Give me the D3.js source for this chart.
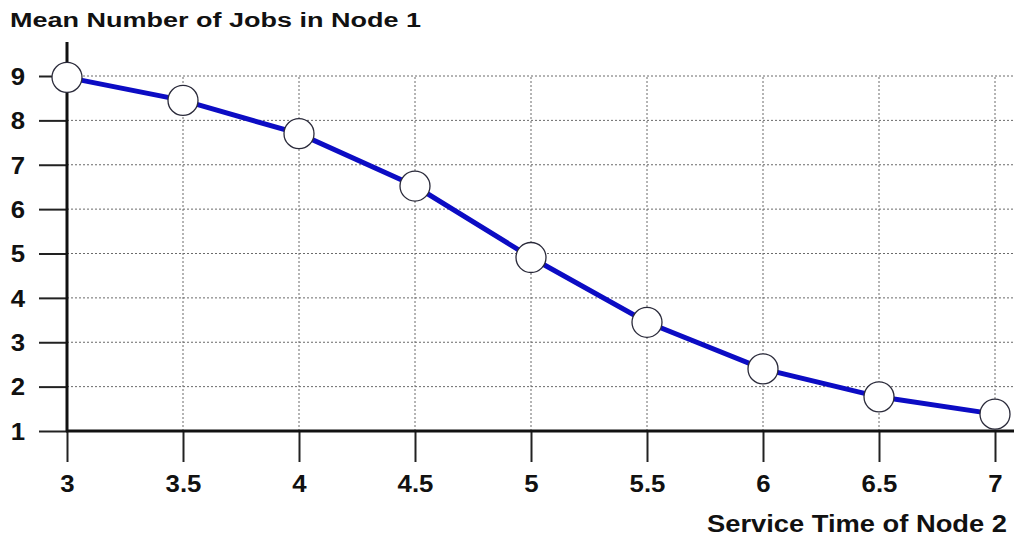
<!DOCTYPE html>
<html>
<head>
<meta charset="utf-8">
<script src="https://cdn.jsdelivr.net/npm/d3@7"></script>
<style>
  body { margin: 0; background: #fff; }
  svg { display: block; }
  .grid line { stroke: #6a6a6a; stroke-width: 1; stroke-dasharray: 2,2; }
  .axis text { font-family: "Liberation Sans", Arial, sans-serif; font-size: 23px; font-weight: bold; fill: #111; }
  .axis line { stroke: #222; stroke-width: 2; }
  .axis .spine { stroke: #111; stroke-width: 3; }
  .title { font-family: "Liberation Sans", Arial, sans-serif; font-weight: bold; fill: #111; }
</style>
</head>
<body>
<div id="chart"></div>
<script>
  'use strict';

  var serviceTimes = [ 3, 3.5, 4, 4.5, 5, 5.5, 6, 6.5, 7 ],
      meanJobs = [ 8.97, 8.45, 7.7, 6.52, 4.91, 3.45, 2.4, 1.77, 1.38 ],
      yTicks = [ 1, 2, 3, 4, 5, 6, 7, 8, 9 ],
      xTicks = [ 3, 3.5, 4, 4.5, 5, 5.5, 6, 6.5, 7 ];

  var width = 1014,
      height = 537;

  var svg = d3.select( '#chart' )
    .append( 'svg' )
    .attr( 'width', width )
    .attr( 'height', height );

  var x = d3.scaleLinear().domain( [ 3, 7 ] ).range( [ 67, 995 ] ),
      y = d3.scaleLinear().domain( [ 1, 9 ] ).range( [ 431, 76 ] );

  // widen the glyphs a bit, the original font is broader than Liberation
  function widen( sel, k ) {
    sel.each( function() {
      var w = this.getComputedTextLength();
      d3.select( this )
        .attr( 'textLength', w * k )
        .attr( 'lengthAdjust', 'spacingAndGlyphs' );
    });
  }

  // dotted grid
  var grid = svg.append( 'g' ).attr( 'class', 'grid' );
  grid.selectAll( '.h' )
    .data( yTicks.slice( 1 ) )
    .enter().append( 'line' )
    .attr( 'x1', x( 3 ) )
    .attr( 'x2', width )
    .attr( 'y1', function( d ) { return y( d ); } )
    .attr( 'y2', function( d ) { return y( d ); } );
  grid.selectAll( '.v' )
    .data( xTicks.slice( 1 ) )
    .enter().append( 'line' )
    .attr( 'x1', function( d ) { return x( d ); } )
    .attr( 'x2', function( d ) { return x( d ); } )
    .attr( 'y1', y( 1 ) )
    .attr( 'y2', y( 9 ) );

  // axes
  var yAxis = svg.append( 'g' )
    .attr( 'class', 'axis' )
    .attr( 'transform', 'translate(' + x( 3 ) + ',0)' )
    .call( d3.axisLeft( y ).tickValues( yTicks ).tickSize( 28 ).tickPadding( 14 ).tickFormat( d3.format( 'd' ) ) );
  yAxis.select( '.domain' ).remove();
  yAxis.selectAll( 'text' ).attr( 'dy', '0.36em' ).call( widen, 1.12 );
  yAxis.append( 'line' )
    .attr( 'class', 'spine' )
    .attr( 'x1', 0 ).attr( 'x2', 0 )
    .attr( 'y1', 42 ).attr( 'y2', y( 1 ) + 1 );

  var xAxis = svg.append( 'g' )
    .attr( 'class', 'axis' )
    .attr( 'transform', 'translate(0,' + y( 1 ) + ')' )
    .call( d3.axisBottom( x ).tickValues( xTicks ).tickSize( 31 ).tickPadding( 14 ).tickFormat( d3.format( '' ) ) );
  xAxis.select( '.domain' ).remove();
  xAxis.selectAll( 'text' ).call( widen, 1.12 );
  xAxis.append( 'line' )
    .attr( 'class', 'spine' )
    .attr( 'x1', x( 3 ) - 1 ).attr( 'x2', width )
    .attr( 'y1', 0 ).attr( 'y2', 0 );

  // series
  var line = d3.line()
    .x( function( d, i ) { return x( serviceTimes[i] ); } )
    .y( function( d ) { return y( d ); } );

  svg.append( 'path' )
    .datum( meanJobs )
    .attr( 'd', line )
    .attr( 'fill', 'none' )
    .attr( 'stroke', '#0c0cc4' )
    .attr( 'stroke-width', 5 );

  svg.selectAll( '.pt' )
    .data( meanJobs )
    .enter().append( 'circle' )
    .attr( 'class', 'pt' )
    .attr( 'cx', function( d, i ) { return x( serviceTimes[i] ); } )
    .attr( 'cy', function( d ) { return y( d ); } )
    .attr( 'r', 15 )
    .attr( 'fill', '#fff' )
    .attr( 'stroke', '#2a2a3a' )
    .attr( 'stroke-width', 1.3 );

  // titles
  svg.append( 'text' )
    .attr( 'class', 'title' )
    .attr( 'x', 10 )
    .attr( 'y', 27 )
    .attr( 'font-size', 20 )
    .attr( 'textLength', 411 )
    .attr( 'lengthAdjust', 'spacingAndGlyphs' )
    .text( 'Mean Number of Jobs in Node 1' );

  svg.append( 'text' )
    .attr( 'class', 'title' )
    .attr( 'x', 707 )
    .attr( 'y', 532 )
    .attr( 'font-size', 23 )
    .attr( 'textLength', 300 )
    .attr( 'lengthAdjust', 'spacingAndGlyphs' )
    .text( 'Service Time of Node 2' );
</script>
</body>
</html>
